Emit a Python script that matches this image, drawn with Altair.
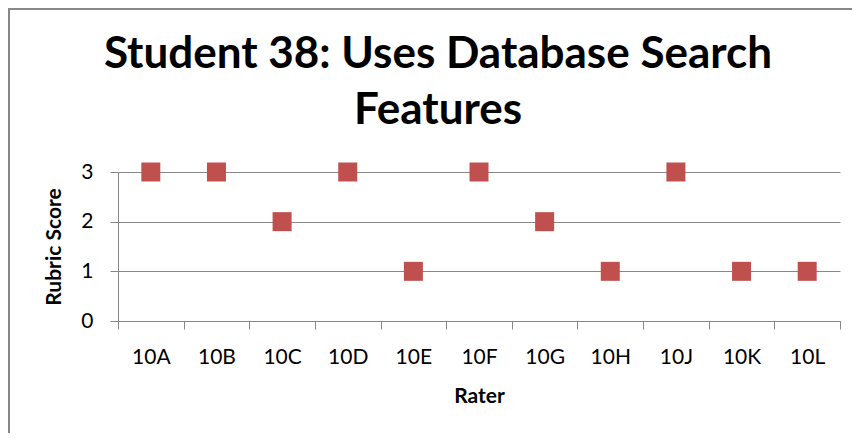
import altair as alt
import pandas as pd

raters = ["10A", "10B", "10C", "10D", "10E", "10F", "10G", "10H", "10J", "10K", "10L"]
scores = [3, 3, 2, 3, 1, 3, 2, 1, 3, 1, 1]

df = pd.DataFrame({"Rater": raters, "Score": scores})

GRAY = "#878787"
FONT = "Lato"

points = alt.Chart(df).mark_square(size=361, color="#C0504D", opacity=1).encode(
    x=alt.X(
        "Rater:N",
        sort=raters,
        scale=alt.Scale(paddingInner=0, paddingOuter=0),
        axis=alt.Axis(
            title="Rater",
            labelAngle=0,
            tickBand="extent",
            grid=False,
            domainColor=GRAY,
            tickColor=GRAY,
            tickSize=8,
            labelFont=FONT,
            labelFontSize=21,
            labelColor="black",
            labelPadding=17,
            titleFont=FONT,
            titleFontSize=21,
            titleFontWeight="bold",
            titleColor="black",
            titlePadding=18,
        ),
    ),
    y=alt.Y(
        "Score:Q",
        scale=alt.Scale(domain=[0, 3], nice=False),
        axis=alt.Axis(
            title="Rubric Score",
            values=[0, 1, 2, 3],
            grid=True,
            gridColor=GRAY,
            domainColor=GRAY,
            tickColor=GRAY,
            tickSize=8,
            labelFont=FONT,
            labelFontSize=21,
            labelColor="black",
            labelPadding=17,
            titleFont=FONT,
            titleFontSize=21,
            titleFontWeight="bold",
            titleColor="black",
            titlePadding=16,
        ),
    ),
)

left_edge = alt.Chart(df).mark_rule(color=GRAY, strokeWidth=1.5, clip=False).encode(
    x=alt.value(-109.25), y=alt.value(-163.25), y2=alt.value(300)
)
top_edge = alt.Chart(df).mark_rule(color=GRAY, strokeWidth=1.5, clip=False).encode(
    x=alt.value(-109.25), x2=alt.value(760), y=alt.value(-163.25)
)

chart = (
    alt.layer(left_edge, top_edge, points)
    .properties(
        width=722,
        height=149,
        autosize=alt.AutoSizeParams(type="none"),
        padding={"left": 110, "top": 164, "right": 12, "bottom": 112},
        title=alt.Title(
            ["Student 38: Uses Database Search", "Features"],
            font=FONT,
            fontSize=44,
            fontWeight="bold",
            color="black",
            lineHeight=56,
            anchor="middle",
            frame="group",
            baseline="alphabetic",
            dx=-41,
            dy=95,
            offset=-65,
        ),
        background="white",
    )
    .configure_view(strokeWidth=0)
)

chart.save("out.html", embed_options={"renderer": "svg", "actions": False})
